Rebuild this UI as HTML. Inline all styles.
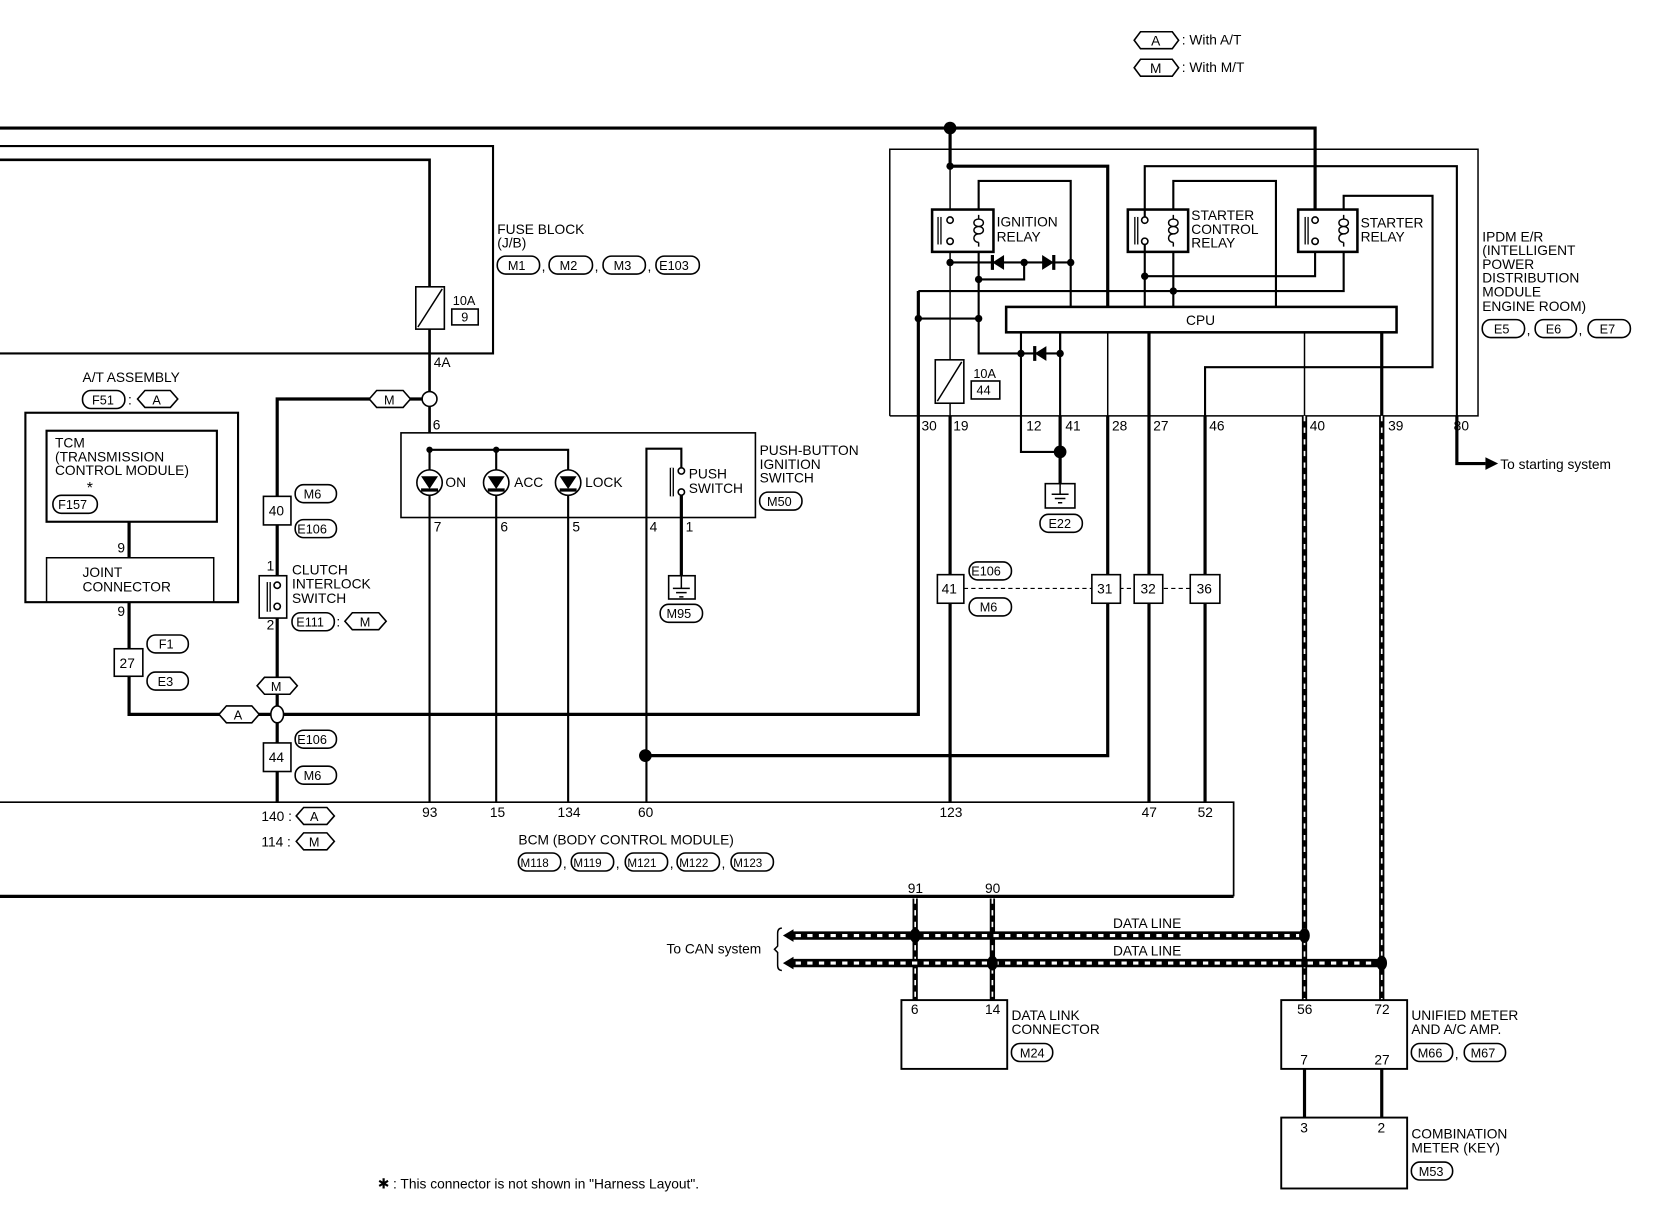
<!DOCTYPE html>
<html><head><meta charset="utf-8"><style>
html,body{margin:0;padding:0;background:#fff}
svg{display:block}
text{font-family:"Liberation Sans",sans-serif;font-size:13px;fill:#000}
.t{stroke:#000;stroke-width:1.4;fill:none}
.k{stroke:#000;stroke-width:3;fill:none}
.o{stroke:#000;stroke-width:1.5;fill:#fff}
.d{stroke:#fff;stroke-width:1.6;stroke-dasharray:5 6;fill:none}
</style></head><body>
<svg width="1660" height="1216" viewBox="0 0 1569 1149" preserveAspectRatio="none" xmlns="http://www.w3.org/2000/svg">
<!-- legend -->
<polygon class="o" points="1072,38 1078,30 1108,30 1114,38 1108,46 1078,46"/><text x="1088" y="43">A</text><text x="1117" y="42">: With A/T</text>
<polygon class="o" points="1072,64 1078,56 1108,56 1114,64 1108,72 1078,72"/><text x="1087" y="69">M</text><text x="1117" y="68">: With M/T</text>

<!-- top lines -->
<path class="k" d="M0,121 H1243 V208"/>
<circle cx="898" cy="121" r="6"/>
<path class="k" d="M898,121 V157"/>
<!-- fuse block -->
<path class="t" style="stroke-width:2" d="M0,138 H466 V334 H0"/>
<path class="k" style="stroke-width:2.5" d="M0,151 H406 V271 M406,311 V409"/>
<rect class="o" x="393" y="271" width="27" height="40"/><line class="t" x1="395" y1="309" x2="418" y2="273"/>
<text x="428" y="288" style="font-size:12px">10A</text><rect class="o" x="427" y="292" width="25" height="15"/><text x="436" y="304" style="font-size:12px">9</text>
<text x="470" y="221">FUSE BLOCK</text><text x="470" y="234">(J/B)</text>
<rect class="o" x="470" y="242" width="40" height="17" rx="8"/><text x="480" y="255" style="font-size:12px">M1</text>
<text x="512" y="256">,</text>
<rect class="o" x="519" y="242" width="41" height="17" rx="8"/><text x="529" y="255" style="font-size:12px">M2</text>
<text x="562" y="256">,</text>
<rect class="o" x="570" y="242" width="40" height="17" rx="8"/><text x="580" y="255" style="font-size:12px">M3</text>
<text x="612" y="256">,</text>
<rect class="o" x="620" y="242" width="41" height="17" rx="8"/><text x="623" y="255" style="font-size:12px">E103</text>
<text x="410" y="347">4A</text>
<!-- M branch -->
<path class="k" d="M406,377 H262 V758"/>
<polygon class="o" points="349,377 356,369 381,369 388,377 381,385 356,385"/><text x="363" y="382" style="font-size:12px">M</text>
<circle class="o" cx="406" cy="377" r="7"/>
<text x="409" y="406">6</text>
<!-- push switch -->
<rect class="o" x="379" y="409" width="335" height="80"/>
<path class="t" style="stroke-width:2" d="M406,425 H537 V758 M469,425 V758 M406,425 V758"/>
<circle cx="406" cy="425" r="3"/><circle cx="469" cy="425" r="3"/>
<g class="o"><circle cx="406" cy="456" r="12"/><circle cx="469" cy="456" r="12"/><circle cx="537" cy="456" r="12"/></g>
<path d="M398,450 H414 L406,462 Z M461,450 H477 L469,462 Z M529,450 H545 L537,462 Z"/>
<path class="k" d="M398,463 H414 M461,463 H477 M529,463 H545"/>
<text x="421" y="460">ON</text><text x="486" y="460">ACC</text><text x="553" y="460">LOCK</text>
<path class="t" style="stroke-width:2" d="M611,758 V424 H644 V442"/>
<path class="k" d="M644,468 V544"/>
<line x1="635" y1="442" x2="635" y2="469" stroke="#000" stroke-width="4"/><line x1="635" y1="442" x2="635" y2="469" stroke="#fff" stroke-width="1.5"/>
<circle class="o" cx="644" cy="445" r="3"/><circle class="o" cx="644" cy="465" r="3"/>
<text x="651" y="452">PUSH</text><text x="651" y="466">SWITCH</text>
<text x="718" y="430">PUSH-BUTTON</text><text x="718" y="443">IGNITION</text><text x="718" y="456">SWITCH</text>
<rect class="o" x="718" y="465" width="40" height="17" rx="8"/><text x="725" y="478" style="font-size:12px">M50</text>
<text x="410" y="502">7</text><text x="473" y="502">6</text><text x="541" y="502">5</text><text x="614" y="502">4</text><text x="648" y="502">1</text>
<rect class="o" x="632" y="544" width="25" height="22"/><path class="t" d="M644,544 V556 M636,556 H652 M639,560 H649 M642,564 H646"/>
<rect class="o" x="624" y="571" width="40" height="17" rx="8"/><text x="630" y="584" style="font-size:12px">M95</text>

<!-- A/T assembly -->
<text x="78" y="361">A/T ASSEMBLY</text>
<rect class="o" x="78" y="369" width="40" height="17" rx="8"/><text x="87" y="382" style="font-size:12px">F51</text>
<text x="121" y="382">:</text>
<polygon class="o" points="130,377 137,369 161,369 168,377 161,385 137,385"/><text x="144" y="382" style="font-size:12px">A</text>
<rect class="t" style="stroke-width:2" x="24" y="390" width="201" height="179"/>
<rect class="t" style="stroke-width:2" x="44" y="407" width="161" height="86"/>
<text x="52" y="423">TCM</text><text x="52" y="436">(TRANSMISSION</text><text x="52" y="449"> CONTROL MODULE)</text>
<text x="82" y="466" style="font-size:15px">*</text>
<rect class="o" x="50" y="468" width="42" height="17" rx="8"/><text x="55" y="481" style="font-size:12px">F157</text>
<path class="k" d="M122,493 V527"/><text x="111" y="522">9</text>
<path class="t" d="M44,569 V527 H202 V569"/>
<text x="78" y="545">JOINT</text><text x="78" y="559">CONNECTOR</text>
<text x="111" y="582">9</text>
<path class="k" d="M122,569 V675 H868 V275"/>
<rect class="o" x="108" y="613" width="27" height="26"/><text x="113" y="631">27</text>
<rect class="o" x="139" y="600" width="39" height="17" rx="8"/><text x="150" y="613" style="font-size:12px">F1</text>
<rect class="o" x="139" y="635" width="39" height="17" rx="8"/><text x="149" y="648" style="font-size:12px">E3</text>
<polygon class="o" points="207,675 214,667 238,667 245,675 238,683 214,683"/><text x="221" y="680" style="font-size:12px">A</text>
<!-- clutch -->
<rect class="o" x="249" y="469" width="26" height="27"/><text x="254" y="487">40</text>
<rect class="o" x="279" y="458" width="39" height="17" rx="8"/><text x="287" y="471" style="font-size:12px">M6</text>
<rect class="o" x="279" y="491" width="39" height="17" rx="8"/><text x="281" y="504" style="font-size:12px">E106</text>
<text x="252" y="539">1</text><text x="252" y="595">2</text>
<rect class="o" x="245" y="544" width="26" height="40"/>
<line x1="254" y1="550" x2="254" y2="578" stroke="#000" stroke-width="4"/><line x1="254" y1="550" x2="254" y2="578" stroke="#fff" stroke-width="1.5"/>
<circle class="o" cx="262" cy="553" r="3"/><circle class="o" cx="262" cy="573" r="3"/>
<text x="276" y="543">CLUTCH</text><text x="276" y="556">INTERLOCK</text><text x="276" y="570">SWITCH</text>
<rect class="o" x="276" y="579" width="40" height="17" rx="8"/><text x="280" y="592" style="font-size:12px">E111</text>
<text x="318" y="592">:</text>
<polygon class="o" points="326,587 333,579 358,579 365,587 358,595 333,595"/><text x="340" y="592" style="font-size:12px">M</text>
<polygon class="o" points="243,648 250,640 274,640 281,648 274,656 250,656"/><text x="256" y="653" style="font-size:12px">M</text>
<ellipse class="o" cx="262" cy="675" rx="6" ry="8"/>
<rect class="o" x="249" y="702" width="26" height="27"/><text x="254" y="720">44</text>
<rect class="o" x="279" y="690" width="39" height="17" rx="8"/><text x="281" y="703" style="font-size:12px">E106</text>
<rect class="o" x="279" y="724" width="39" height="17" rx="8"/><text x="287" y="737" style="font-size:12px">M6</text>

<!-- IPDM -->
<path class="t" d="M841,393 V141 H1397 V393 H841"/>
<circle cx="898" cy="157" r="3.5"/>
<path class="k" d="M898,157 H1047 V290"/>
<path class="t" d="M898,157 V208 M898,228 V340 M898,381 V393"/>
<rect class="o" x="881" y="198" width="58" height="40" style="stroke-width:2.4"/>
<line x1="888" y1="205" x2="888" y2="231" stroke="#000" stroke-width="4"/><line x1="888" y1="205" x2="888" y2="231" stroke="#fff" stroke-width="1.5"/>
<circle class="o" cx="898" cy="208" r="3"/><circle class="o" cx="898" cy="228" r="3"/>
<path class="t" d="M925,203 V207 M925,229 V233 M925,207 c-6,0 -6,7 0,7 c6,0 6,-7 0,-7 M925,214 c-6,0 -6,7 0,7 c6,0 6,-7 0,-7 M925,221 c-6,0 -6,8 0,8"/>
<text x="942" y="214">IGNITION</text><text x="942" y="228">RELAY</text>
<path class="t" style="stroke-width:2" d="M925,198 V171 H1012 V290 M898,248 H1012 M968,248 V264 H925 M925,238 V334 H1002 V290 M868,301 H925 M868,275 H1270 V238"/>
<circle cx="898" cy="248" r="3.5"/><circle cx="968" cy="248" r="3.5"/><circle cx="1012" cy="248" r="3.5"/>
<circle cx="925" cy="264" r="3.5"/><circle cx="925" cy="301" r="3.5"/><circle cx="868" cy="301" r="3.5"/>
<path d="M949,241 V255 L938,248 Z M985,241 V255 L996,248 Z"/><path class="k" d="M938,241 V255 M996,241 V255"/>
<rect class="o" x="884" y="340" width="27" height="41"/><line class="t" x1="886" y1="379" x2="909" y2="342"/>
<text x="920" y="357" style="font-size:12px">10A</text><rect class="o" x="918" y="360" width="27" height="17"/><text x="923" y="373" style="font-size:12px">44</text>
<rect class="o" x="951" y="290" width="369" height="24" style="stroke-width:2.4"/><text x="1121" y="307">CPU</text>
<circle cx="965" cy="334" r="3.5"/><circle cx="1002" cy="334" r="3.5"/>
<path d="M989,327 V341 L978,334 Z"/><path class="k" d="M978,327 V341"/>
<path class="t" style="stroke-width:2" d="M965,314 V427 H1002"/>
<path class="t" style="stroke-width:2" d="M1002,314 V393"/>
<path class="k" d="M1002,393 V457"/><circle cx="1002" cy="427" r="6"/>
<rect class="o" x="988" y="457" width="28" height="23"/><path class="t" d="M1002,457 V467 M994,467 H1010 M997,471 H1007 M1000,475 H1004"/>
<rect class="o" x="983" y="486" width="40" height="17" rx="8"/><text x="991" y="499" style="font-size:12px">E22</text>
<!-- starter control relay -->
<rect class="o" x="1066" y="198" width="57" height="40" style="stroke-width:2.4"/>
<line x1="1074" y1="205" x2="1074" y2="231" stroke="#000" stroke-width="4"/><line x1="1074" y1="205" x2="1074" y2="231" stroke="#fff" stroke-width="1.5"/>
<circle class="o" cx="1082" cy="208" r="3"/><circle class="o" cx="1082" cy="228" r="3"/>
<path class="t" d="M1109,203 V207 M1109,229 V233 M1109,207 c-6,0 -6,7 0,7 c6,0 6,-7 0,-7 M1109,214 c-6,0 -6,7 0,7 c6,0 6,-7 0,-7 M1109,221 c-6,0 -6,8 0,8"/>
<text x="1126" y="208">STARTER</text><text x="1126" y="221">CONTROL</text><text x="1126" y="234">RELAY</text>
<path class="t" style="stroke-width:2" d="M1082,205 V157 H1377 V393 M1109,198 V171 H1206 V290 M1082,231 V290 M1109,238 V290 M1082,261 H1243 V231"/>
<circle cx="1082" cy="261" r="3.5"/><circle cx="1109" cy="275" r="3.5"/>
<!-- starter relay -->
<rect class="o" x="1227" y="198" width="56" height="40" style="stroke-width:2.4"/>
<line x1="1235" y1="205" x2="1235" y2="231" stroke="#000" stroke-width="4"/><line x1="1235" y1="205" x2="1235" y2="231" stroke="#fff" stroke-width="1.5"/>
<circle class="o" cx="1243" cy="208" r="3"/><circle class="o" cx="1243" cy="228" r="3"/>
<path class="t" d="M1270,203 V207 M1270,229 V233 M1270,207 c-6,0 -6,7 0,7 c6,0 6,-7 0,-7 M1270,214 c-6,0 -6,7 0,7 c6,0 6,-7 0,-7 M1270,221 c-6,0 -6,8 0,8"/>
<text x="1286" y="215">STARTER</text><text x="1286" y="228">RELAY</text>
<path class="t" style="stroke-width:2" d="M1270,198 V185 H1354 V347 H1139 V393"/>
<path class="t" d="M1047,314 V393 M1233,314 V393"/>
<path class="k" d="M1086,314 V758 M1306,314 V393 M1139,393 V758 M1047,393 V714 H610 M898,393 V758"/>
<circle cx="610" cy="714" r="6"/>
<path class="k" d="M1377,393 V438 H1404"/><path d="M1404,432 L1416,438 L1404,444 Z"/>
<text x="1418" y="443">To starting system</text>
<g style="font-size:13px"><text x="871" y="407">30</text><text x="901" y="407">19</text><text x="970" y="407">12</text><text x="1007" y="407">41</text><text x="1051" y="407">28</text><text x="1090" y="407">27</text><text x="1143" y="407">46</text><text x="1238" y="407">40</text><text x="1312" y="407">39</text><text x="1374" y="407">80</text></g>
<text x="1401" y="228">IPDM E/R</text><text x="1401" y="241">(INTELLIGENT</text><text x="1401" y="254"> POWER</text><text x="1401" y="267"> DISTRIBUTION</text><text x="1401" y="280"> MODULE</text><text x="1401" y="294"> ENGINE ROOM)</text>
<rect class="o" x="1401" y="302" width="40" height="17" rx="8"/><text x="1412" y="315" style="font-size:12px">E5</text><text x="1443" y="316">,</text>
<rect class="o" x="1451" y="302" width="39" height="17" rx="8"/><text x="1461" y="315" style="font-size:12px">E6</text><text x="1492" y="316">,</text>
<rect class="o" x="1501" y="302" width="40" height="17" rx="8"/><text x="1512" y="315" style="font-size:12px">E7</text>
<!-- joint boxes -->
<line x1="911" y1="556" x2="1125" y2="556" stroke="#000" stroke-width="1" stroke-dasharray="4 3"/>
<rect class="o" x="886" y="543" width="25" height="27"/><text x="890" y="561">41</text>
<rect class="o" x="1032" y="543" width="27" height="27"/><text x="1037" y="561">31</text>
<rect class="o" x="1072" y="543" width="27" height="27"/><text x="1078" y="561">32</text>
<rect class="o" x="1125" y="543" width="28" height="27"/><text x="1131" y="561">36</text>
<rect class="o" x="916" y="531" width="40" height="17" rx="8"/><text x="918" y="544" style="font-size:12px">E106</text>
<rect class="o" x="916" y="565" width="40" height="17" rx="8"/><text x="926" y="578" style="font-size:12px">M6</text>

<!-- BCM -->
<path class="t" style="stroke-width:1.6" d="M0,758 H1166 V847"/><path class="k" d="M0,847 H1166"/>
<g style="font-size:13px"><text x="399" y="772">93</text><text x="463" y="772">15</text><text x="527" y="772">134</text><text x="603" y="772">60</text><text x="888" y="772">123</text><text x="1079" y="772">47</text><text x="1132" y="772">52</text></g>
<text x="247" y="776">140 :</text><polygon class="o" points="280,771 287,763 309,763 316,771 309,779 287,779"/><text x="293" y="776" style="font-size:12px">A</text>
<text x="247" y="800">114 :</text><polygon class="o" points="280,795 287,787 309,787 316,795 309,803 287,803"/><text x="292" y="800" style="font-size:12px">M</text>
<text x="490" y="798">BCM (BODY CONTROL MODULE)</text>
<rect class="o" x="490" y="806" width="40" height="17" rx="8"/><text x="492" y="819" style="font-size:11px">M118</text><text x="532" y="820">,</text>
<rect class="o" x="540" y="806" width="40" height="17" rx="8"/><text x="542" y="819" style="font-size:11px">M119</text><text x="582" y="820">,</text>
<rect class="o" x="591" y="806" width="40" height="17" rx="8"/><text x="593" y="819" style="font-size:11px">M121</text><text x="633" y="820">,</text>
<rect class="o" x="640" y="806" width="40" height="17" rx="8"/><text x="642" y="819" style="font-size:11px">M122</text><text x="682" y="820">,</text>
<rect class="o" x="691" y="806" width="40" height="17" rx="8"/><text x="693" y="819" style="font-size:11px">M123</text>
<text x="858" y="844">91</text><text x="931" y="844">90</text>

<!-- data lines -->
<g>
<path stroke="#000" stroke-width="5" fill="none" d="M865,849 V945 M938,849 V945 M1233,393 V945 M1306,393 V945"/>
<path class="d" d="M865,849 V945 M938,849 V945 M1233,393 V945 M1306,393 V945"/>
<path stroke="#000" stroke-width="8" fill="none" d="M748,884 H1233 M748,910 H1306"/>
<path stroke="#fff" stroke-width="3" stroke-dasharray="5 6" fill="none" d="M752,884 H1228 M752,910 H1300"/>
<path d="M740,884 L750,878 V890 Z M740,910 L750,904 V916 Z"/>
<ellipse cx="865" cy="884" rx="5" ry="7"/><ellipse cx="1233" cy="884" rx="5" ry="7"/>
<ellipse cx="938" cy="910" rx="5" ry="7"/><ellipse cx="1306" cy="910" rx="5" ry="7"/>
</g>
<text x="1052" y="877">DATA LINE</text><text x="1052" y="903">DATA LINE</text>
<text x="630" y="901">To CAN system</text>
<path class="t" d="M739,877 Q735,877 735,882 V894 L732,897 L735,900 V912 Q735,917 739,917"/>
<rect class="o" x="852" y="945" width="100" height="65" style="stroke-width:1.8"/>
<text x="861" y="958">6</text><text x="931" y="958">14</text>
<text x="956" y="964">DATA LINK</text><text x="956" y="977">CONNECTOR</text>
<rect class="o" x="956" y="986" width="39" height="17" rx="8"/><text x="964" y="999" style="font-size:12px">M24</text>
<rect class="o" x="1211" y="945" width="119" height="65" style="stroke-width:1.8"/>
<text x="1226" y="958">56</text><text x="1299" y="958">72</text><text x="1229" y="1006">7</text><text x="1299" y="1006">27</text>
<text x="1334" y="964">UNIFIED METER</text><text x="1334" y="977">AND A/C AMP.</text>
<rect class="o" x="1334" y="986" width="39" height="17" rx="8"/><text x="1340" y="999" style="font-size:12px">M66</text><text x="1375" y="1000">,</text>
<rect class="o" x="1384" y="986" width="39" height="17" rx="8"/><text x="1390" y="999" style="font-size:12px">M67</text>
<path class="k" d="M1233,1010 V1056 M1306,1010 V1056"/>
<rect class="o" x="1211" y="1056" width="119" height="67" style="stroke-width:1.8"/>
<text x="1229" y="1070">3</text><text x="1302" y="1070">2</text>
<text x="1334" y="1076">COMBINATION</text><text x="1334" y="1089">METER (KEY)</text>
<rect class="o" x="1334" y="1098" width="39" height="17" rx="8"/><text x="1341" y="1111" style="font-size:12px">M53</text>
<text x="357" y="1123">✱ : This connector is not shown in "Harness Layout".</text>
</svg>
</body></html>
